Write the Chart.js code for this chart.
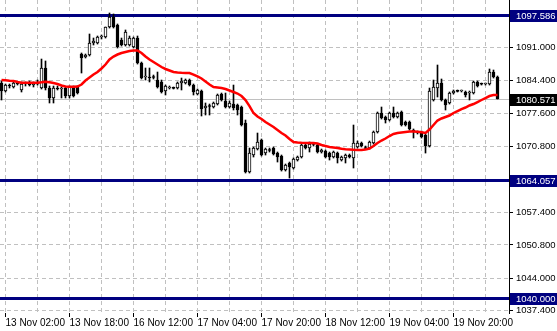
<!DOCTYPE html>
<html>
<head>
<meta charset="utf-8">
<script src="https://cdn.jsdelivr.net/npm/chart.js@4/dist/chart.umd.min.js"></script>
<style>
  html, body { margin: 0; padding: 0; background: #fff; }
  canvas { display: block; }
</style>
</head>
<body>
<canvas id="chart" width="557" height="331"></canvas>
<script>
// hourly bars, left to right (13 Nov 01:00 .. 19 Nov 23:00)
const opens = [
  1083.80, 1082.17, 1083.39, 1082.99, 1083.80, 1082.38, 1083.60, 1083.80, 1083.39, 1083.80,
  1082.78, 1086.86, 1082.78, 1080.75, 1082.78, 1082.58, 1082.78, 1081.15, 1082.99, 1082.99,
  1089.71, 1089.10, 1089.51, 1091.96, 1091.96, 1093.18, 1093.18, 1095.22, 1097.25, 1095.62,
  1092.57, 1091.55, 1091.55, 1091.14, 1092.97, 1087.88, 1085.03, 1085.03, 1085.03, 1084.41,
  1084.01, 1082.17, 1082.78, 1082.78, 1082.78, 1083.80, 1083.80, 1084.41, 1083.39, 1081.56,
  1082.17, 1078.71, 1079.11, 1078.91, 1079.52, 1081.56, 1080.13, 1078.91, 1079.52, 1079.32,
  1078.91, 1075.65, 1065.66, 1069.13, 1070.35, 1072.18, 1069.53, 1070.15, 1070.55, 1069.53,
  1068.92, 1066.07, 1067.50, 1066.48, 1068.11, 1068.72, 1071.16, 1070.55, 1071.37, 1071.16,
  1069.74, 1069.94, 1069.53, 1068.72, 1069.53, 1068.11, 1068.52, 1069.13, 1068.52, 1070.76,
  1071.57, 1070.55, 1070.55, 1071.57, 1073.81, 1077.69, 1076.87, 1076.26, 1077.69, 1076.87,
  1077.89, 1075.85, 1075.85, 1074.22, 1073.81, 1073.81, 1073.20, 1070.96, 1080.34, 1082.78,
  1083.80, 1080.34, 1079.73, 1081.76, 1082.17, 1082.17, 1081.97, 1081.76, 1081.76, 1084.01,
  1083.60, 1083.60, 1083.60, 1086.04, 1085.03
];
const highs = [
  1084.21, 1083.60, 1083.60, 1084.01, 1084.01, 1084.01, 1084.01, 1084.21, 1084.01, 1084.41,
  1088.69, 1088.29, 1083.19, 1083.19, 1083.19, 1082.99, 1082.99, 1083.19, 1083.19, 1083.19,
  1089.92, 1089.71, 1093.79, 1092.97, 1093.38, 1093.59, 1095.22, 1098.07, 1097.87, 1095.83,
  1092.97, 1094.61, 1093.38, 1093.18, 1093.38, 1088.08, 1086.86, 1086.86, 1085.43, 1086.04,
  1084.41, 1083.39, 1083.19, 1082.99, 1084.01, 1084.82, 1084.62, 1084.62, 1083.60, 1082.58,
  1082.38, 1079.73, 1079.52, 1079.93, 1081.56, 1081.76, 1081.76, 1080.13, 1083.39, 1079.52,
  1079.11, 1076.26, 1070.55, 1070.76, 1073.61, 1072.39, 1070.55, 1070.55, 1070.76, 1069.74,
  1069.13, 1067.29, 1067.70, 1068.52, 1068.92, 1071.37, 1071.37, 1071.78, 1071.57, 1071.37,
  1070.35, 1070.15, 1069.74, 1069.94, 1069.74, 1068.92, 1069.33, 1069.33, 1075.24, 1071.98,
  1071.78, 1070.96, 1071.98, 1074.02, 1077.89, 1078.91, 1077.08, 1077.89, 1078.91, 1077.89,
  1078.10, 1076.06, 1076.06, 1074.43, 1074.02, 1074.02, 1073.41, 1082.78, 1084.41, 1087.47,
  1084.62, 1080.54, 1081.97, 1082.38, 1082.38, 1082.38, 1082.17, 1082.17, 1084.21, 1084.21,
  1083.80, 1083.80, 1086.66, 1086.45, 1085.23
];
const lows = [
  1080.34, 1081.97, 1082.78, 1082.78, 1083.39, 1081.97, 1083.19, 1083.19, 1082.99, 1083.39,
  1082.58, 1082.38, 1079.73, 1079.73, 1082.38, 1080.75, 1080.75, 1080.75, 1080.95, 1081.56,
  1085.84, 1088.90, 1089.31, 1091.55, 1091.75, 1092.77, 1092.97, 1095.01, 1095.01, 1090.94,
  1091.34, 1091.34, 1091.34, 1090.94, 1087.67, 1084.62, 1084.41, 1084.01, 1084.62, 1082.78,
  1081.76, 1081.36, 1082.58, 1082.58, 1082.58, 1082.38, 1083.60, 1083.19, 1081.36, 1081.36,
  1077.08, 1077.28, 1077.28, 1078.71, 1079.32, 1080.13, 1078.71, 1078.71, 1078.30, 1077.28,
  1075.04, 1065.46, 1065.46, 1068.72, 1070.15, 1068.92, 1069.13, 1069.74, 1069.13, 1067.70,
  1065.86, 1065.86, 1064.44, 1066.27, 1067.90, 1068.52, 1070.35, 1069.74, 1070.96, 1069.53,
  1069.53, 1068.52, 1068.11, 1068.52, 1067.50, 1067.90, 1067.50, 1068.52, 1066.48, 1070.55,
  1070.76, 1070.35, 1070.35, 1071.37, 1073.61, 1076.46, 1075.65, 1076.06, 1076.67, 1076.67,
  1075.04, 1075.04, 1074.22, 1072.59, 1073.41, 1072.59, 1069.53, 1070.76, 1080.13, 1080.95,
  1080.13, 1078.30, 1079.52, 1081.56, 1081.97, 1081.97, 1080.95, 1080.34, 1081.56, 1082.99,
  1083.39, 1083.39, 1083.39, 1084.82, 1080.54
];
const closes = [
  1082.17, 1083.39, 1083.19, 1083.80, 1083.60, 1083.60, 1083.80, 1083.39, 1083.80, 1083.60,
  1086.86, 1082.78, 1080.75, 1082.78, 1082.58, 1082.78, 1081.15, 1082.99, 1081.15, 1081.76,
  1088.90, 1089.51, 1091.96, 1092.36, 1093.18, 1093.38, 1095.22, 1097.25, 1095.22, 1091.14,
  1091.55, 1094.20, 1092.97, 1092.97, 1087.88, 1084.82, 1085.13, 1084.82, 1084.93, 1082.99,
  1081.97, 1083.19, 1082.88, 1082.70, 1083.80, 1084.21, 1084.41, 1083.39, 1081.97, 1082.38,
  1078.50, 1079.11, 1079.01, 1079.73, 1081.36, 1080.34, 1078.91, 1079.73, 1078.71, 1078.30,
  1075.24, 1065.66, 1069.53, 1070.55, 1071.78, 1069.13, 1070.35, 1070.05, 1069.33, 1068.72,
  1066.07, 1067.09, 1066.68, 1068.31, 1068.72, 1071.16, 1070.55, 1071.37, 1071.27, 1069.74,
  1070.15, 1068.72, 1068.72, 1069.74, 1068.52, 1068.72, 1069.13, 1068.72, 1071.57, 1071.57,
  1070.96, 1070.45, 1071.78, 1073.81, 1077.69, 1076.67, 1076.26, 1077.69, 1076.87, 1077.69,
  1075.24, 1075.24, 1074.43, 1073.81, 1073.71, 1072.80, 1070.96, 1082.17, 1082.99, 1083.80,
  1080.34, 1079.32, 1081.76, 1082.17, 1082.10, 1082.20, 1081.36, 1081.97, 1084.01, 1083.19,
  1083.55, 1083.65, 1086.04, 1085.03, 1080.571
];
// red moving average
const movingAvg = [
  1084.41, 1084.35, 1084.27, 1084.21, 1084.01, 1083.86, 1083.86, 1083.86, 1083.86, 1083.86,
  1083.94, 1084.07, 1083.94, 1083.80, 1083.60, 1083.29, 1083.09, 1083.05, 1083.05, 1083.09,
  1083.50, 1084.31, 1084.92, 1085.53, 1086.04, 1086.76, 1087.57, 1088.59, 1089.20, 1089.61,
  1089.92, 1090.12, 1090.32, 1090.43, 1090.43, 1089.92, 1089.20, 1088.59, 1088.08, 1087.57,
  1087.06, 1086.66, 1086.35, 1086.04, 1085.94, 1085.88, 1085.84, 1085.84, 1085.53, 1085.13,
  1084.72, 1084.11, 1083.50, 1082.99, 1082.88, 1082.78, 1082.58, 1082.27, 1081.97, 1081.66,
  1081.15, 1080.34, 1079.11, 1077.69, 1076.97, 1076.46, 1075.85, 1075.34, 1074.83, 1074.22,
  1073.61, 1073.10, 1072.39, 1071.78, 1071.67, 1071.61, 1071.57, 1071.57, 1071.57, 1071.47,
  1071.16, 1070.96, 1070.76, 1070.66, 1070.55, 1070.39, 1070.31, 1070.25, 1070.19, 1070.15,
  1070.15, 1070.25, 1070.45, 1070.96, 1071.57, 1072.08, 1072.49, 1073.00, 1073.41, 1073.61,
  1073.71, 1073.81, 1073.92, 1073.92, 1073.86, 1073.75, 1073.61, 1074.32, 1075.24, 1076.16,
  1076.57, 1076.87, 1077.18, 1077.69, 1078.09, 1078.50, 1078.81, 1079.22, 1079.52, 1079.93,
  1080.34, 1080.74, 1081.15, 1081.36, 1081.36
];

// time axis: labelled bars and their text
const labelBars = [1, 17, 33, 49, 65, 81, 97, 113];
const timeLabels = ['13 Nov 02:00', '13 Nov 18:00', '16 Nov 12:00', '17 Nov 04:00',
  '17 Nov 20:00', '18 Nov 12:00', '19 Nov 04:00', '19 Nov 20:00'];
const gridBars = [1, 9, 17, 25, 33, 41, 49, 57, 65, 73, 81, 89, 97, 105, 113, 121];

// price axis
const priceTicks = [1037.4, 1044.0, 1050.8, 1057.4, 1064.0, 1070.8, 1077.6, 1084.4, 1091.0, 1097.8];
const priceMin = 1036.93;
const priceMax = 1100.72;

// horizontal levels and last price
const levels = [1097.586, 1064.057, 1040.000];
const lastPrice = 1080.571;

const FONT = "'Liberation Sans', Arial, sans-serif";
const NAVY = '#000080';
const GRID = '#c0c0c0';

const wickData = highs.map((h, i) => ({ x: i, y: [lows[i], h] }));
const bodyData = opens.map((o, i) => ({ x: i, y: [Math.min(o, closes[i]), Math.max(o, closes[i])] }));
const bodyFill = opens.map((o, i) => closes[i] >= o ? '#ffffff' : '#000000');
const maData = movingAvg.map((v, i) => ({ x: i, y: v }));

const noPadding = s => {
  s.paddingTop = 0;
  s.paddingBottom = 0;
  s.paddingLeft = 0;
  s.paddingRight = 0;
};

const levelPlugin = {
  id: 'levels',
  beforeDatasetsDraw(chart) {
    const { ctx, chartArea: a, scales: { y } } = chart;
    ctx.save();
    // last price line
    const py = Math.round(y.getPixelForValue(lastPrice)) + 0.5;
    ctx.strokeStyle = GRID;
    ctx.lineWidth = 1;
    ctx.beginPath();
    ctx.moveTo(a.left, py);
    ctx.lineTo(a.right, py);
    ctx.stroke();
    // horizontal levels
    ctx.strokeStyle = NAVY;
    ctx.lineWidth = 3;
    levels.forEach(v => {
      const p = Math.round(y.getPixelForValue(v)) + 0.5;
      ctx.beginPath();
      ctx.moveTo(a.left, p);
      ctx.lineTo(a.right, p);
      ctx.stroke();
    });
    ctx.restore();
  },
  afterDraw(chart) {
    const { ctx, chartArea: a, scales: { y }, width } = chart;
    const tag = (v, bg) => {
      const p = Math.round(y.getPixelForValue(v));
      ctx.fillStyle = bg;
      ctx.fillRect(a.right + 1, p - 5, width - a.right - 1, 12);
      ctx.fillStyle = '#ffffff';
      ctx.fillText(v.toFixed(3), a.right + 7, p + 1);
    };
    ctx.save();
    ctx.font = '9.5px ' + FONT;
    ctx.textAlign = 'left';
    ctx.textBaseline = 'middle';
    levels.forEach(v => tag(v, NAVY));
    tag(lastPrice, '#000000');
    ctx.restore();
  }
};

new Chart(document.getElementById('chart'), {
  type: 'bar',
  data: {
    datasets: [
      {
        type: 'line',
        data: maData,
        borderColor: '#ff0000',
        borderWidth: 2.5,
        pointRadius: 0,
        tension: 0,
        order: 0
      },
      {
        data: bodyData,
        backgroundColor: bodyFill,
        borderColor: '#000000',
        borderWidth: 1,
        borderSkipped: false,
        barThickness: 3,
        minBarLength: 1,
        grouped: false,
        order: 1
      },
      {
        data: wickData,
        backgroundColor: '#000000',
        borderWidth: 0,
        barThickness: 1,
        grouped: false,
        order: 2
      }
    ]
  },
  options: {
    responsive: false,
    devicePixelRatio: 1,
    animation: false,
    layout: { padding: 0 },
    plugins: { legend: { display: false }, tooltip: { enabled: false } },
    scales: {
      x: {
        type: 'linear',
        offset: false,
        min: -0.375,
        max: 126.875,
        afterBuildTicks: s => { s.ticks = gridBars.map(v => ({ value: v })); },
        afterFit: s => { s.height = 18; noPadding(s); },
        grid: {
          offset: false,
          color: GRID,
          lineWidth: 1,
          tickLength: 4,
          tickColor: c => labelBars.includes(c.tick && c.tick.value) ? '#000000' : 'rgba(0,0,0,0)',
          tickBorderDash: []
        },
        border: { display: false, dash: [4, 3] },
        ticks: {
          autoSkip: false,
          maxRotation: 0,
          align: 'start',
          padding: 0,
          color: '#000000',
          font: { family: FONT, size: 10 },
          callback: v => {
            const k = labelBars.indexOf(v);
            return k >= 0 ? timeLabels[k] : '';
          }
        }
      },
      y: {
        position: 'right',
        min: priceMin,
        max: priceMax,
        afterBuildTicks: s => { s.ticks = priceTicks.map(v => ({ value: v })); },
        afterFit: s => { s.width = 48; noPadding(s); },
        grid: {
          color: GRID,
          lineWidth: 1,
          tickLength: 4,
          tickColor: '#000000',
          tickBorderDash: []
        },
        border: { display: true, color: '#000000', width: 1, dash: [4, 3] },
        ticks: {
          autoSkip: false,
          padding: 3,
          color: '#000000',
          font: { family: FONT, size: 9.5 },
          callback: v => v.toFixed(3)
        }
      }
    }
  },
  plugins: [levelPlugin]
});
</script>
</body>
</html>
